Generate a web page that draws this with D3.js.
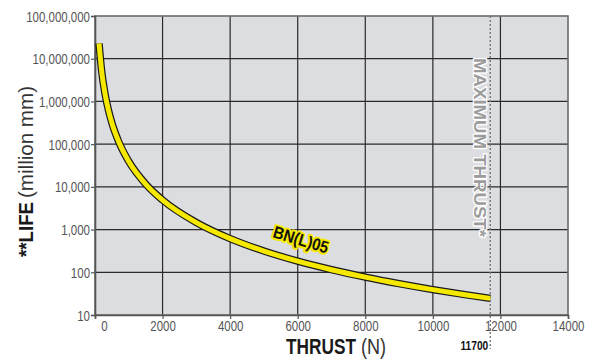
<!DOCTYPE html>
<html>
<head>
<meta charset="utf-8">
<script src="https://cdn.jsdelivr.net/npm/d3@7"></script>
<style>
  body { margin: 0; background: #fff; }
  text { font-family: "Liberation Sans", Arial, sans-serif; }
</style>
</head>
<body>
<div id="chart"></div>
<script>
// thrust (N) vs life (million mm)
const thrust = [120, 200, 300, 400, 500, 700, 1000, 1500, 2000, 3000, 4000, 5000, 6000, 7000, 8000, 9000, 10000, 11000, 11700];
const life = [22700000, 4900000, 1460000, 614000, 314000, 115000, 39300, 11650, 4910, 1460, 614, 314, 182, 115, 77, 54, 39.3, 29.5, 24.5];

const xTicks = [0, 2000, 4000, 6000, 8000, 10000, 12000, 14000];
const yTicks = [10, 100, 1000, 10000, 100000, 1000000, 10000000, 100000000];
const maxThrust = 11700;
const seriesName = "BN(L)05";

const margin = { top: 16, right: 26, bottom: 45, left: 95 };
const width = 594 - margin.left - margin.right;
const height = 360 - margin.top - margin.bottom;

// squeeze text horizontally to mimic a condensed face
function condense(sel, f) {
    sel.each(function () {
        const len = this.getComputedTextLength();
        d3.select(this)
            .attr("textLength", len * f)
            .attr("lengthAdjust", "spacingAndGlyphs");
    });
}

const svg = d3.select("#chart")
    .append("svg")
    .attr("width", 594)
    .attr("height", 360);

const g = svg.append("g")
    .attr("transform", `translate(${margin.left},${margin.top})`);

const x = d3.scaleLinear()
    .domain([0, 14000])
    .range([0, width]);

const y = d3.scaleLog()
    .domain([10, 100000000])
    .range([height, 0]);

// background
g.append("rect")
    .attr("width", width)
    .attr("height", height)
    .attr("fill", "#dcdde0");

// grid
g.selectAll(".vgrid")
    .data(xTicks.slice(1, -1))
    .enter()
    .append("line")
    .attr("x1", d => x(d))
    .attr("x2", d => x(d))
    .attr("y1", 0)
    .attr("y2", height)
    .attr("stroke", "#2a2a2a")
    .attr("stroke-width", 1.2);

g.selectAll(".hgrid")
    .data(yTicks.slice(1, -1))
    .enter()
    .append("line")
    .attr("x1", 0)
    .attr("x2", width)
    .attr("y1", d => y(d))
    .attr("y2", d => y(d))
    .attr("stroke", "#2a2a2a")
    .attr("stroke-width", 1.2);

// border
g.append("rect")
    .attr("width", width)
    .attr("height", height)
    .attr("fill", "none")
    .attr("stroke", "#6b6b6b")
    .attr("stroke-width", 1.6);

// axes
const xAxis = g.append("g")
    .attr("transform", `translate(0,${height})`)
    .call(d3.axisBottom(x).tickValues(xTicks).tickFormat(d3.format("d")).tickSize(4));

const yAxis = g.append("g")
    .call(d3.axisLeft(y).tickValues(yTicks).tickFormat(d3.format(",")).tickSize(4).tickPadding(1));

[xAxis, yAxis].forEach(a => {
    a.select(".domain").attr("stroke", "#555").attr("stroke-width", 1.6);
    a.selectAll(".tick line").attr("stroke", "#555").attr("stroke-width", 1.2);
    a.selectAll(".tick text")
        .attr("fill", "#555")
        .style("font-size", "14px")
        .style("font-family", "'Liberation Sans', Arial, sans-serif");
    condense(a.selectAll(".tick text"), 0.82);
});
yAxis.selectAll(".tick text").attr("dy", "0.36em");
xAxis.selectAll(".tick text").attr("dy", "0.62em")
    .attr("dx", d => d === 0 ? 9 : 0);

// max thrust line
g.append("line")
    .attr("x1", x(maxThrust))
    .attr("x2", x(maxThrust))
    .attr("y1", 0)
    .attr("y2", height + 34)
    .attr("stroke", "#777")
    .attr("stroke-width", 1.4)
    .attr("stroke-dasharray", "2,2");

g.append("text")
    .attr("transform", `translate(${x(maxThrust) - 16},42) rotate(90)`)
    .attr("fill", "#9c9c9c")
    .attr("stroke", "#fff")
    .attr("stroke-width", 2.5)
    .attr("stroke-linejoin", "round")
    .attr("paint-order", "stroke")
    .style("font-size", "17px")
    .style("font-weight", "bold")
    .attr("textLength", 179)
    .attr("lengthAdjust", "spacingAndGlyphs")
    .text("MAXIMUM THRUST*");

const maxTick = g.append("text")
    .attr("x", x(maxThrust) - 2)
    .attr("y", height + 35)
    .attr("text-anchor", "end")
    .attr("fill", "#111")
    .style("font-size", "12px")
    .style("font-weight", "bold")
    .text("11700");
condense(maxTick, 0.85);

// curve
const data = thrust.map((t, i) => ({ t: t, l: life[i] }));
const line = d3.line()
    .x(d => x(d.t))
    .y(d => y(d.l))
    .curve(d3.curveMonotoneX);

g.append("path")
    .datum(data)
    .attr("d", line)
    .attr("fill", "none")
    .attr("stroke", "#1a1a1a")
    .attr("stroke-width", 7.4);

g.append("path")
    .datum(data)
    .attr("d", line)
    .attr("fill", "none")
    .attr("stroke", "#f6e900")
    .attr("stroke-width", 5);

// series label
g.append("text")
    .attr("transform", `translate(${177},${221}) rotate(17)`)
    .attr("fill", "#111")
    .attr("stroke", "#f6e900")
    .attr("stroke-width", 4)
    .attr("stroke-linejoin", "round")
    .attr("paint-order", "stroke")
    .style("font-size", "17px")
    .style("font-weight", "bold")
    .attr("textLength", 57)
    .attr("lengthAdjust", "spacingAndGlyphs")
    .text(seriesName);

// axis titles
svg.append("text")
    .attr("transform", "translate(286,354) scale(0.785,1)")
    .attr("fill", "#1a1a1a")
    .style("font-size", "22px")
    .style("font-weight", "bold")
    .text("THRUST");

svg.append("text")
    .attr("transform", "translate(361,354) scale(0.82,1)")
    .attr("fill", "#333")
    .style("font-size", "22px")
    .text("(N)");

svg.append("text")
    .attr("transform", "translate(33,257) rotate(-90)")
    .attr("fill", "#1a1a1a")
    .style("font-size", "21px")
    .style("font-weight", "bold")
    .attr("textLength", 55)
    .attr("lengthAdjust", "spacingAndGlyphs")
    .text("**LIFE");

svg.append("text")
    .attr("transform", "translate(33,198) rotate(-90)")
    .attr("fill", "#333")
    .style("font-size", "21px")
    .attr("textLength", 112)
    .attr("lengthAdjust", "spacingAndGlyphs")
    .text("(million mm)");
</script>
</body>
</html>
